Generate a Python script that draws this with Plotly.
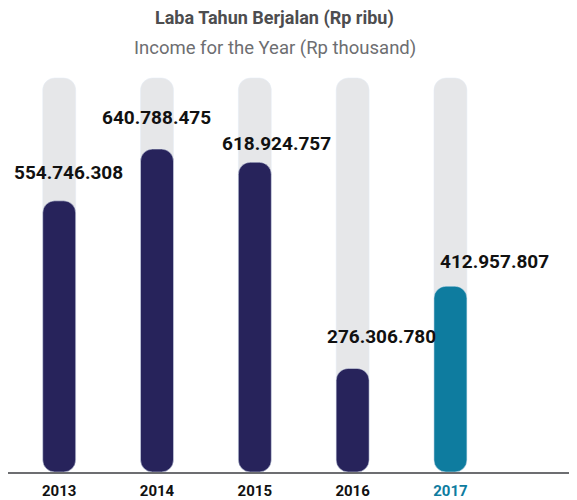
import plotly.graph_objects as go

years = ["2013", "2014", "2015", "2016", "2017"]
income = [554746308, 640788475, 618924757, 276306780, 412957807]
value_labels = ["554.746.308", "640.788.475", "618.924.757", "276.306.780", "412.957.807"]

# styling / layout (not data)
bar_colors = ["#27235b", "#27235b", "#27235b", "#27235b", "#0e7c9f"]
tick_colors = ["#111111", "#111111", "#111111", "#111111", "#0e7c9f"]
label_xshift = [9, -1, 22, 29, 44]
label_yshift = [28, 32, 19, 32, 25]
y_min, y_max = 104.2e6, 772.2e6
track_top = 759e6

fig = go.Figure()
fig.add_trace(go.Bar(
    x=years, y=[track_top - y_min] * len(years), base=y_min,
    marker=dict(color="#e6e7e9", cornerradius=12),
    width=0.337, hoverinfo="skip", showlegend=False))
fig.add_trace(go.Bar(
    x=years, y=[v - y_min for v in income], base=y_min,
    marker=dict(color=bar_colors, cornerradius=12),
    width=0.337, showlegend=False))

for i, (v, lab, dx, dy) in enumerate(zip(income, value_labels, label_xshift, label_yshift)):
    fig.add_annotation(x=i, y=v, text="<b>" + lab + "</b>", showarrow=False,
                       xshift=dx, yshift=dy, font=dict(family="Roboto", size=19, color="#111111"))

fig.add_annotation(xref="paper", yref="paper", x=0.469, y=1.129, yanchor="middle",
                   text="<b>Laba Tahun Berjalan (Rp ribu)</b>",
                   showarrow=False, font=dict(family="Roboto", size=18, color="#4d4d4f"))
fig.add_annotation(xref="paper", yref="paper", x=0.469, y=1.0547, yanchor="middle",
                   text="Income for the Year (Rp thousand)",
                   showarrow=False, font=dict(family="Roboto", size=18.5, color="#6d6e71"))

ticktext = ["<span style='color:%s'><b>%s</b></span>" % (c, y) for c, y in zip(tick_colors, years)]

fig.update_layout(
    width=569, height=492, margin=dict(l=0, r=0, t=62, b=28),
    plot_bgcolor="white", paper_bgcolor="white", barmode="overlay",
    xaxis=dict(type="category", range=[-0.5235, 5.294], tickvals=years, ticktext=ticktext,
               showline=True, linecolor="#6d6e71", linewidth=2, showgrid=False, ticks="",
               tickfont=dict(family="Roboto", size=15, color="#111111"), ticklabelstandoff=4,
               fixedrange=True),
    yaxis=dict(range=[y_min, y_max], visible=False, showgrid=False, fixedrange=True),
)

fig.write_html("out.html")
